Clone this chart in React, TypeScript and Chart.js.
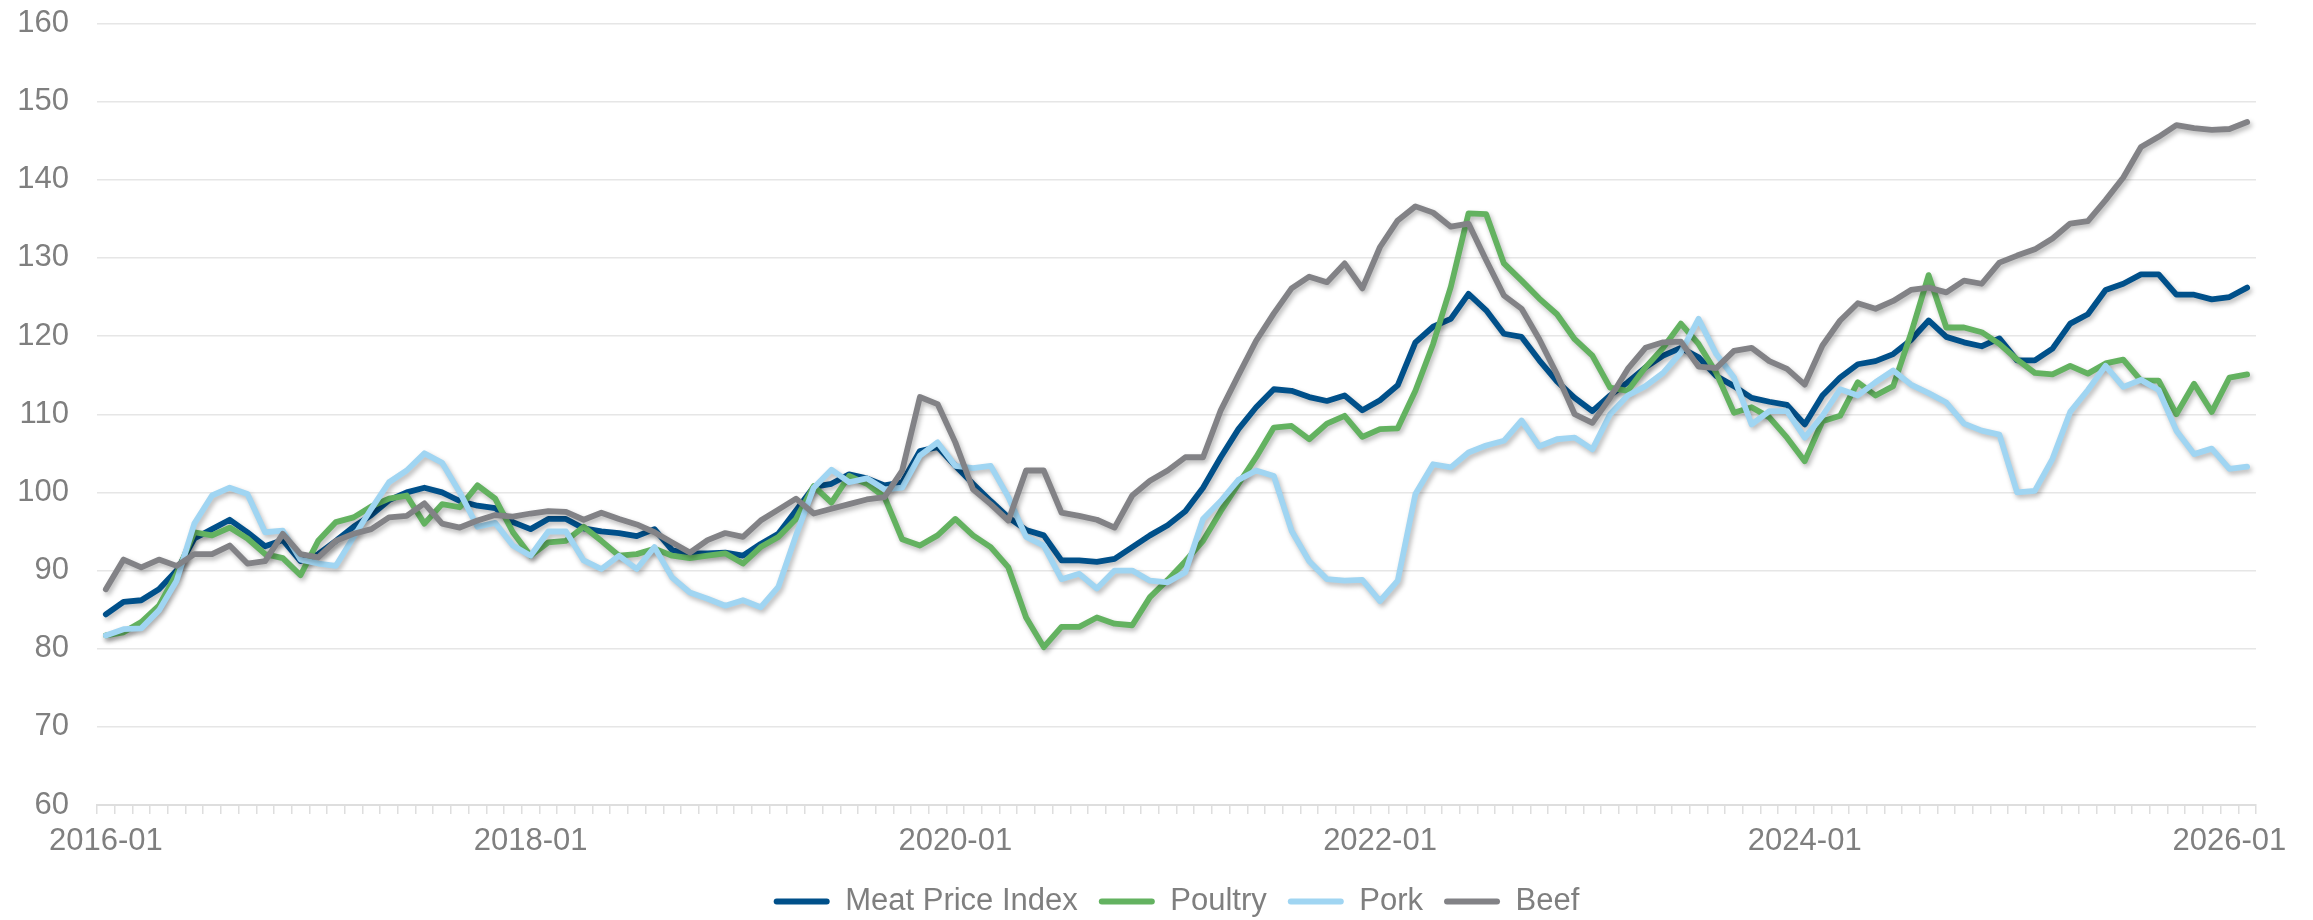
import React, { useEffect, useRef } from 'react';
import { Chart, registerables } from 'chart.js';

Chart.register(...registerables);

// Monthly categories 2016-01 .. 2026-02
const MONTHS: string[] = [];
for (let y = 2016; y <= 2026; y++) {
  for (let m = 1; m <= 12; m++) {
    if (y === 2026 && m > 2) break;
    MONTHS.push(`${y}-${m < 10 ? '0' + m : m}`);
  }
}

const TICK_LABELS = ['2016-01', '2018-01', '2020-01', '2022-01', '2024-01', '2026-01'];

const MEAT = [
  84.4, 86.0, 86.2, 87.6, 90.0, 94.1, 95.3, 96.5, 94.9, 93.1,
  93.9, 91.2, 92.1, 93.8, 95.6, 97.1, 99.0, 100.0, 100.6, 100.0,
  98.9, 98.3, 98.0, 96.2, 95.3, 96.6, 96.6, 95.4, 95.0, 94.8,
  94.4, 95.3, 92.6, 92.2, 92.2, 92.3, 91.9, 93.4, 94.7, 97.7,
  100.7, 101.1, 102.3, 101.8, 100.9, 101.3, 105.3, 105.8, 103.4, 101.1,
  98.9, 96.8, 95.2, 94.5, 91.3, 91.3, 91.1, 91.5, 93.0, 94.5,
  95.8, 97.6, 100.6, 104.5, 108.1, 110.9, 113.2, 113.0, 112.2, 111.7,
  112.4, 110.5, 111.8, 113.7, 119.2, 121.2, 122.2, 125.4, 123.3, 120.3,
  119.9, 116.9, 114.2, 112.1, 110.4, 112.4, 114.1, 116.0, 117.5, 118.5,
  117.3, 114.9, 113.6, 112.1, 111.6, 111.2, 108.7, 112.4, 114.7, 116.4,
  116.8, 117.7, 119.5, 122.0, 119.9, 119.2, 118.7, 119.7, 116.9, 116.9,
  118.4, 121.6, 122.8, 125.9, 126.7, 127.9, 127.9, 125.3, 125.3, 124.7,
  125.0, 126.2,
];

const POULTRY = [
  81.7, 82.1, 83.4, 85.5, 89.6, 94.9, 94.5, 95.5, 94.1, 92.1,
  91.6, 89.4, 93.8, 96.2, 96.8, 98.2, 99.2, 99.6, 96.0, 98.5,
  98.1, 100.9, 99.2, 94.9, 91.9, 93.6, 93.8, 95.6, 93.8, 91.9,
  92.1, 92.8, 91.9, 91.6, 91.9, 92.2, 90.9, 93.0, 94.3, 96.6,
  100.8, 98.7, 102.1, 101.1, 99.4, 94.0, 93.2, 94.5, 96.6, 94.5,
  93.0, 90.4, 84.0, 80.2, 82.8, 82.8, 84.0, 83.2, 83.0, 86.6,
  88.8, 91.2, 93.8, 97.6, 101.1, 104.5, 108.3, 108.5, 106.8, 108.8,
  109.8, 107.1, 108.1, 108.2, 113.0, 119.0, 126.3, 135.7, 135.6, 129.3,
  127.1, 124.8, 122.8, 119.6, 117.5, 113.4, 113.0, 116.0, 118.5, 121.6,
  119.0, 115.3, 110.2, 110.9, 109.6, 107.0, 104.0, 109.1, 109.8, 114.1,
  112.4, 113.6, 120.3, 127.8, 121.1, 121.1, 120.5, 119.0, 117.0, 115.3,
  115.1, 116.2, 115.2, 116.5, 117.0, 114.3, 114.3, 110.0, 113.9, 110.3,
  114.7, 115.1,
];

const PORK = [
  81.7, 82.5, 82.6, 84.9, 88.7, 96.0, 99.6, 100.6, 99.8, 94.9,
  95.1, 91.4, 90.9, 90.6, 94.3, 97.9, 101.3, 102.8, 105.0, 103.8,
  100.0, 95.6, 96.1, 93.2, 91.9, 95.0, 95.0, 91.3, 90.2, 91.9,
  90.2, 93.0, 89.1, 87.2, 86.4, 85.5, 86.2, 85.3, 87.9, 94.5,
  100.6, 102.9, 101.3, 101.8, 100.4, 100.6, 104.7, 106.4, 103.4, 103.1,
  103.4, 99.4, 94.3, 93.2, 88.9, 89.6, 87.7, 90.0, 90.0, 88.7,
  88.5, 89.8, 96.6, 98.9, 101.6, 102.8, 102.1, 95.1, 91.2, 88.9,
  88.7, 88.8, 86.1, 88.7, 99.8, 103.6, 103.2, 105.1, 106.0, 106.6,
  109.2, 105.9, 106.8, 107.0, 105.5, 110.0, 112.4, 113.6, 115.3, 117.9,
  122.2, 117.7, 114.7, 108.7, 110.4, 110.4, 107.0, 109.8, 113.2, 112.4,
  114.1, 115.6, 113.8, 112.7, 111.5, 108.8, 107.9, 107.4, 100.0, 100.2,
  104.3, 110.3, 113.1, 116.2, 113.5, 114.4, 113.1, 107.9, 104.9, 105.6,
  103.0, 103.3,
];

const BEEF = [
  87.6, 91.4, 90.4, 91.4, 90.6, 92.1, 92.1, 93.2, 90.9, 91.2,
  94.7, 92.1, 91.7, 93.8, 94.7, 95.3, 96.8, 97.0, 98.6, 96.0,
  95.5, 96.4, 97.1, 96.9, 97.3, 97.6, 97.5, 96.5, 97.4, 96.6,
  95.9, 94.9, 93.6, 92.3, 93.9, 94.8, 94.3, 96.4, 97.8, 99.2,
  97.3, 97.9, 98.5, 99.1, 99.4, 102.8, 112.2, 111.3, 106.4, 100.4,
  98.5, 96.4, 102.8, 102.8, 97.4, 97.0, 96.5, 95.5, 99.6, 101.5,
  102.8, 104.5, 104.5, 110.5, 115.0, 119.4, 122.9, 126.1, 127.6, 126.9,
  129.3, 126.1, 131.4, 134.8, 136.6, 135.8, 134.0, 134.4, 129.7, 125.2,
  123.5, 119.6, 115.1, 110.0, 108.9, 112.1, 115.8, 118.5, 119.2, 119.3,
  116.1, 115.9, 118.1, 118.5, 116.8, 115.8, 113.8, 118.8, 122.0, 124.2,
  123.5, 124.5, 125.9, 126.2, 125.6, 127.1, 126.7, 129.4, 130.3, 131.1,
  132.5, 134.4, 134.7, 137.4, 140.3, 144.2, 145.5, 147.0, 146.6, 146.4,
  146.5, 147.4,
];

const SERIES = [
  { label: 'Meat Price Index', data: MEAT, color: '#00508a' },
  { label: 'Poultry', data: POULTRY, color: '#63b260' },
  { label: 'Pork', data: PORK, color: '#a0d5f2' },
  { label: 'Beef', data: BEEF, color: '#828286' },
];

const FONT = 'Liberation Sans, Arial, Helvetica, sans-serif';
const TEXT_COLOR = '#7f7f7f';

// soft drop shadow under every line, like the reference
const shadowPlugin = {
  id: 'lineShadow',
  beforeDatasetDraw(chart: any) {
    const ctx = chart.ctx;
    ctx.save();
    ctx.shadowColor = 'rgba(0,0,0,0.28)';
    ctx.shadowBlur = 5;
    ctx.shadowOffsetX = 2;
    ctx.shadowOffsetY = 3;
  },
  afterDatasetDraw(chart: any) {
    chart.ctx.restore();
  },
};

// center the legend on the plot area instead of the whole canvas
const legendCenterPlugin = {
  id: 'legendCenter',
  afterLayout(chart: any) {
    const lg = chart.legend;
    const ca = chart.chartArea;
    if (lg && ca) {
      lg.left = ca.left;
      lg.right = ca.right;
    }
  },
};

export default function App() {
  const canvasRef = useRef<HTMLCanvasElement | null>(null);

  useEffect(() => {
    document.body.style.margin = '0';
    const canvas = canvasRef.current;
    if (!canvas) return;
    const chart = new Chart(canvas, {
      type: 'line',
      data: {
        labels: MONTHS,
        datasets: SERIES.map((s, i) => ({
          label: s.label,
          data: s.data,
          borderColor: s.color,
          backgroundColor: s.color,
          borderWidth: 5.8,
          pointRadius: 0,
          pointHoverRadius: 0,
          tension: 0,
          fill: false,
          borderJoinStyle: 'round' as const,
          borderCapStyle: 'round' as const,
          order: SERIES.length - i,
        })),
      },
      options: {
        responsive: false,
        animation: false,
        events: [],
        layout: { padding: { top: 23.5, right: 57, left: 0, bottom: 0 } },
        scales: {
          x: {
            type: 'category',
            offset: true,
            afterFit: (s: any) => {
              s.height = 60;
            },
            grid: {
              offset: true,
              drawOnChartArea: false,
              drawTicks: true,
              tickLength: 9,
              color: '#dedede',
              lineWidth: 1.5,
            },
            border: { display: true, color: '#dedede', width: 2 },
            ticks: {
              autoSkip: false,
              maxRotation: 0,
              minRotation: 0,
              padding: 9,
              color: TEXT_COLOR,
              font: { family: FONT, size: 31 },
              callback: (_v: any, idx: number) =>
                TICK_LABELS.includes(MONTHS[idx]) ? MONTHS[idx] : '',
            },
          },
          y: {
            min: 60,
            max: 160,
            afterFit: (s: any) => {
              s.width = 97;
              s.paddingTop = 0;
              s.paddingBottom = 0;
            },
            grid: {
              drawTicks: false,
              color: '#e6e6e6',
              lineWidth: 1.5,
            },
            border: { display: false },
            ticks: {
              stepSize: 10,
              padding: 28,
              color: TEXT_COLOR,
              font: { family: FONT, size: 31 },
            },
          },
        },
        plugins: {
          tooltip: { enabled: false },
          title: { display: false },
          legend: {
            display: true,
            position: 'bottom',
            labels: {
              boxWidth: 56,
              boxHeight: 6,
              padding: 21,
              color: TEXT_COLOR,
              font: { family: FONT, size: 31 },
              sort: (a: any, b: any) => a.datasetIndex - b.datasetIndex,
              generateLabels: (c: any) =>
                Chart.defaults.plugins.legend.labels
                  .generateLabels(c)
                  .map((it: any) => ({ ...it, lineWidth: 0, borderRadius: 3 })),
            },
          },
        },
      },
      plugins: [shadowPlugin, legendCenterPlugin],
    });
    return () => chart.destroy();
  }, []);

  return (
    <div
      style={{
        position: 'absolute',
        left: 0,
        top: 0,
        width: 2313,
        height: 920,
        overflow: 'hidden',
        background: '#ffffff',
      }}
    >
      <canvas ref={canvasRef} width={2313} height={927} style={{ display: 'block' }} />
    </div>
  );
}
